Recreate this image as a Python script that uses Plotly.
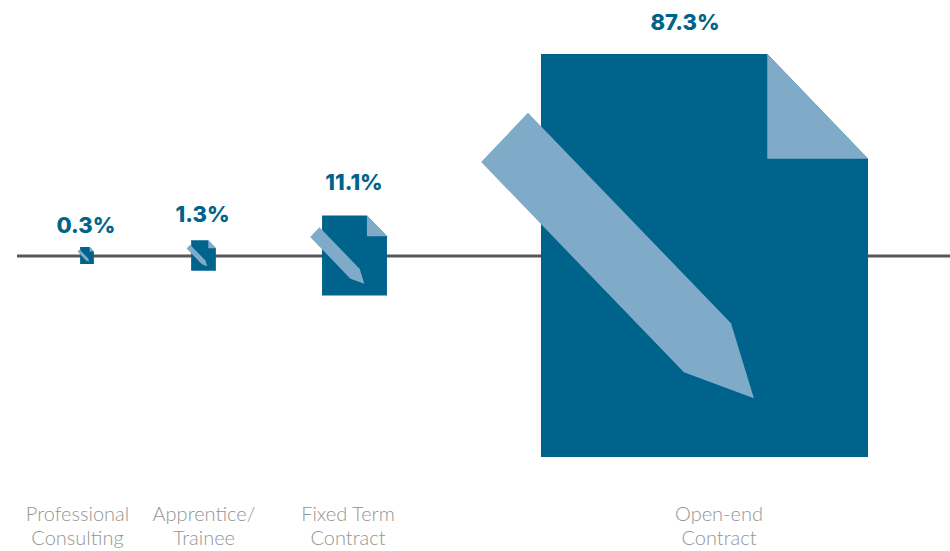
import numpy as np
import plotly.graph_objects as go

categories = ["Professional<br>Consulting", "Apprentice/<br>Trainee", "Fixed Term<br>Contract", "Open-end<br>Contract"]
values = [0.3, 1.3, 11.1, 87.3]
value_labels = ["0.3%", "1.3%", "11.1%", "87.3%"]

# layout (chart pixel space)
W, H = 950, 551
BASE_Y = 255.5
LINE_Y = 256
icon_cx = [87, 203.5, 354.5, 704.5]
value_label_x = [86, 202.5, 354, 685]
value_label_gap = [20, 24, 31, 30]
cat_label_x = [77.5, 204, 348, 719]
cat_line_y = [515.5, 539.5]
scale_domain = [0.3, 1.3, 11.1, 87.3]
scale_height = [17, 30.5, 80, 403]
ASPECT = 327 / 403

DARK, LIGHT, LINE, GREY = "#00638B", "#7FABC9", "#58585A", "#949494"

# unit pictogram template (x, y in 0..1 of the icon box)
PAGE = [(0, 0), (0.692, 0), (1, 0.26), (1, 1), (0, 1)]
FOLD = [(0.692, 0), (1, 0.26), (0.692, 0.26)]
PENCIL = [(-0.04, 0.146), (-0.183, 0.268), (0.437, 0.79), (0.651, 0.854), (0.581, 0.668)]


def icon_trace(poly, cx, h, color):
    w = h * ASPECT
    x = [cx - w / 2 + px * w for px, _ in poly] + [cx - w / 2 + poly[0][0] * w]
    y = [BASE_Y - h / 2 + py * h for _, py in poly] + [BASE_Y - h / 2 + poly[0][1] * h]
    return go.Scatter(x=x, y=y, mode="lines", fill="toself", fillcolor=color,
                      line=dict(width=0, color=color), hoverinfo="skip", showlegend=False)


fig = go.Figure()
fig.add_trace(go.Scatter(x=[17, W], y=[LINE_Y, LINE_Y], mode="lines",
                         line=dict(color=LINE, width=3), hoverinfo="skip", showlegend=False))

heights = np.interp(values, scale_domain, scale_height)
for cx, h in zip(icon_cx, heights):
    fig.add_trace(icon_trace(PAGE, cx, h, DARK))
    fig.add_trace(icon_trace(FOLD, cx, h, LIGHT))
    fig.add_trace(icon_trace(PENCIL, cx, h, LIGHT))

fig.add_trace(go.Scatter(
    x=value_label_x,
    y=[BASE_Y - h / 2 - g for h, g in zip(heights, value_label_gap)],
    mode="text", text=value_labels, textposition="middle center",
    textfont=dict(family="Inter", size=22, color=DARK, weight=800),
    hoverinfo="skip", showlegend=False))

for row, line_y in enumerate(cat_line_y):
    fig.add_trace(go.Scatter(
        x=cat_label_x, y=[line_y] * len(categories),
        mode="text", text=[c.split("<br>")[row] for c in categories],
        textposition="middle center",
        textfont=dict(family="Lato", size=20, color=GREY, weight=300),
        hoverinfo="skip", showlegend=False))

fig.update_layout(
    width=W, height=H, margin=dict(l=0, r=0, t=0, b=0),
    paper_bgcolor="white", plot_bgcolor="white", showlegend=False,
    xaxis=dict(range=[0, W], visible=False, fixedrange=True),
    yaxis=dict(range=[H, 0], visible=False, fixedrange=True),
)
fig.write_html("out.html", config={"displayModeBar": False},
               post_script="document.body.style.margin='0';document.body.style.overflow='hidden';")
